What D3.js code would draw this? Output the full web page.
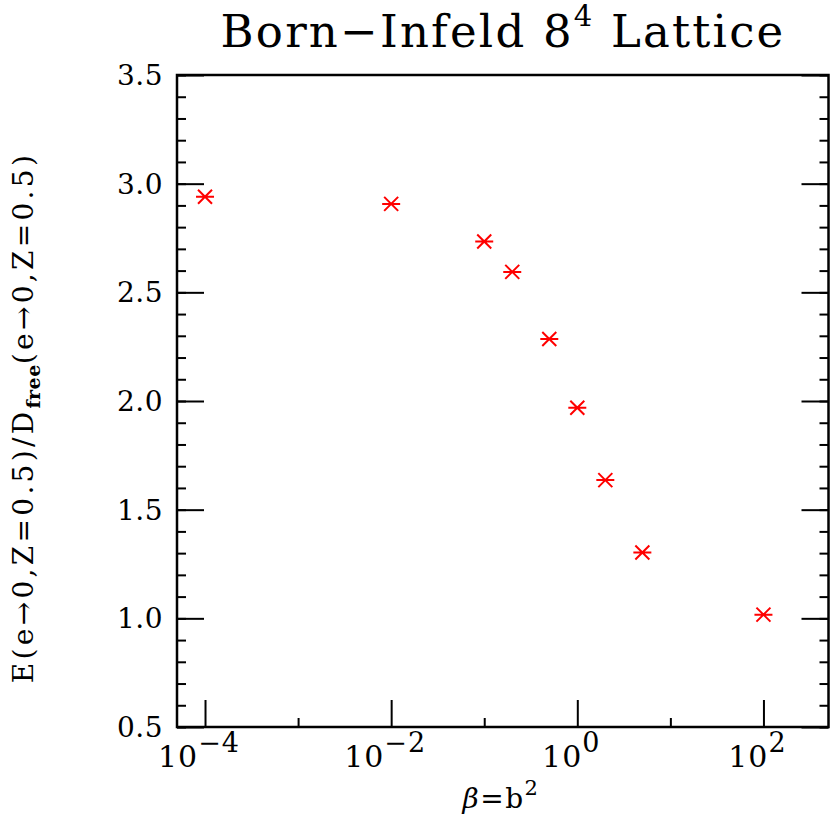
<!DOCTYPE html>
<html>
<head>
<meta charset="utf-8">
<script src="https://d3js.org/d3.v7.min.js"></script>
<style>
  body { margin: 0; background: #fff; }
  text { font-family: 'DejaVu Serif', serif; fill: #000; }
</style>
</head>
<body>
<script>
// values
const betaValues = [1e-4, 1e-2, 0.1, 0.2, 0.5, 1, 2, 5, 100]
const ratioValues = [2.94, 2.907, 2.734, 2.594, 2.285, 1.969, 1.636, 1.303, 1.017]
const xMajorExps = [-4, -2, 0, 2]
const xMinorExps = [-3, -1, 1]
const yMajorTicks = [0.5, 1.0, 1.5, 2.0, 2.5, 3.0, 3.5]

const width = 830
const height = 818
const margin = { top: 75, right: 1.5, bottom: 91, left: 177 }

const svg = d3.select('body').append('svg')
  .attr('width', width)
  .attr('height', height)

const x = d3.scaleLog()
  .domain([5e-5, 500])
  .range([margin.left, width - margin.right])

const y = d3.scaleLinear()
  .domain([0.5, 3.5])
  .range([height - margin.bottom, margin.top])

const plotW = width - margin.right - margin.left
const plotH = height - margin.bottom - margin.top

// left axis
svg.append('g')
  .attr('transform', `translate(${margin.left},0)`)
  .call(d3.axisRight(y).tickValues(d3.range(5, 36).map(d => d / 10)).tickSize(9).tickFormat(''))
  .call(g => g.select('.domain').remove())
svg.append('g')
  .attr('transform', `translate(${margin.left},0)`)
  .call(d3.axisRight(y).tickValues(yMajorTicks).tickSize(27).tickFormat(''))
  .call(g => g.select('.domain').remove())
svg.append('g')
  .attr('transform', `translate(${margin.left - 14},0)`)
  .selectAll('text')
  .data(yMajorTicks)
  .join('text')
  .attr('y', d => y(d))
  .attr('dy', '0.36em')
  .attr('text-anchor', 'end')
  .attr('font-size', 28)
  .attr('letter-spacing', 0.5)
  .text(d => d.toFixed(1))

// right axis
svg.append('g')
  .attr('transform', `translate(${width - margin.right},0)`)
  .call(d3.axisLeft(y).tickValues(d3.range(5, 36).map(d => d / 10)).tickSize(9).tickFormat(''))
  .call(g => g.select('.domain').remove())
svg.append('g')
  .attr('transform', `translate(${width - margin.right},0)`)
  .call(d3.axisLeft(y).tickValues(yMajorTicks).tickSize(27).tickFormat(''))
  .call(g => g.select('.domain').remove())

// bottom axis
const xAxisY = height - margin.bottom
svg.append('g')
  .attr('transform', `translate(0,${xAxisY})`)
  .call(d3.axisTop(x).tickValues(xMajorExps.map(e => Math.pow(10, e))).tickSize(27).tickFormat(''))
  .call(g => g.select('.domain').remove())
svg.append('g')
  .attr('transform', `translate(0,${xAxisY})`)
  .call(d3.axisTop(x).tickValues(xMinorExps.map(e => Math.pow(10, e))).tickSize(9).tickFormat(''))
  .call(g => g.select('.domain').remove())

svg.selectAll('.tick line').attr('stroke', '#000').attr('stroke-width', 2)

const xLabels = svg.append('g')
  .selectAll('text')
  .data(xMajorExps)
  .join('text')
  .attr('x', d => x(Math.pow(10, d)) - 6)
  .attr('y', xAxisY + 40)
  .attr('text-anchor', 'middle')
  .attr('font-size', 30)
  .attr('letter-spacing', 1)
xLabels.append('tspan').text('10')
xLabels.append('tspan')
  .attr('dy', -15)
  .attr('font-size', 27)
  .text(d => d < 0 ? '\u2212' + Math.abs(d) : d)

// frame
svg.append('rect')
  .attr('x', margin.left)
  .attr('y', margin.top)
  .attr('width', plotW)
  .attr('height', plotH)
  .attr('fill', 'none')
  .attr('stroke', '#000')
  .attr('stroke-width', 2.5)

// axis titles
const xTitle = svg.append('text')
  .attr('x', 501)
  .attr('y', 808)
  .attr('text-anchor', 'middle')
  .attr('font-size', 28)
  .attr('letter-spacing', 1.5)
xTitle.append('tspan').attr('font-style', 'italic').text('\u03b2')
xTitle.append('tspan').text('=b')
xTitle.append('tspan').attr('dy', -13).attr('font-size', 21).text('2')

const yTitle = svg.append('text')
  .attr('transform', `translate(33,${(152 + 683) / 2}) rotate(-90)`)
  .attr('text-anchor', 'middle')
  .attr('font-size', 28)
  .attr('letter-spacing', 3.3)
yTitle.append('tspan').text('E(e\u21920,Z=0.5)/D')
yTitle.append('tspan').attr('dy', 7).attr('font-size', 19).attr('font-weight', 'bold').attr('letter-spacing', 0.5).text('free')
yTitle.append('tspan').attr('dy', -7).text('(e\u21920,Z=0.5)')

// title
const title = svg.append('text')
  .attr('x', 503)
  .attr('y', 47)
  .attr('text-anchor', 'middle')
  .attr('font-size', 45)
  .attr('letter-spacing', 2.2)
title.append('tspan').text('Born\u2212Infeld 8')
title.append('tspan').attr('dy', -21).attr('font-size', 29).text('4')
title.append('tspan').attr('dy', 21).text(' Lattice')

// asterisk markers
const star = 'M-9,0H9M-7,-7L7,7M-7,7L7,-7'
svg.append('g')
  .selectAll('path')
  .data(betaValues.map((b, i) => [b, ratioValues[i]]))
  .join('path')
  .attr('transform', d => `translate(${x(d[0])},${y(d[1])})`)
  .attr('d', star)
  .attr('fill', 'none')
  .attr('stroke', '#ff0000')
  .attr('stroke-width', 2)
</script>
</body>
</html>
